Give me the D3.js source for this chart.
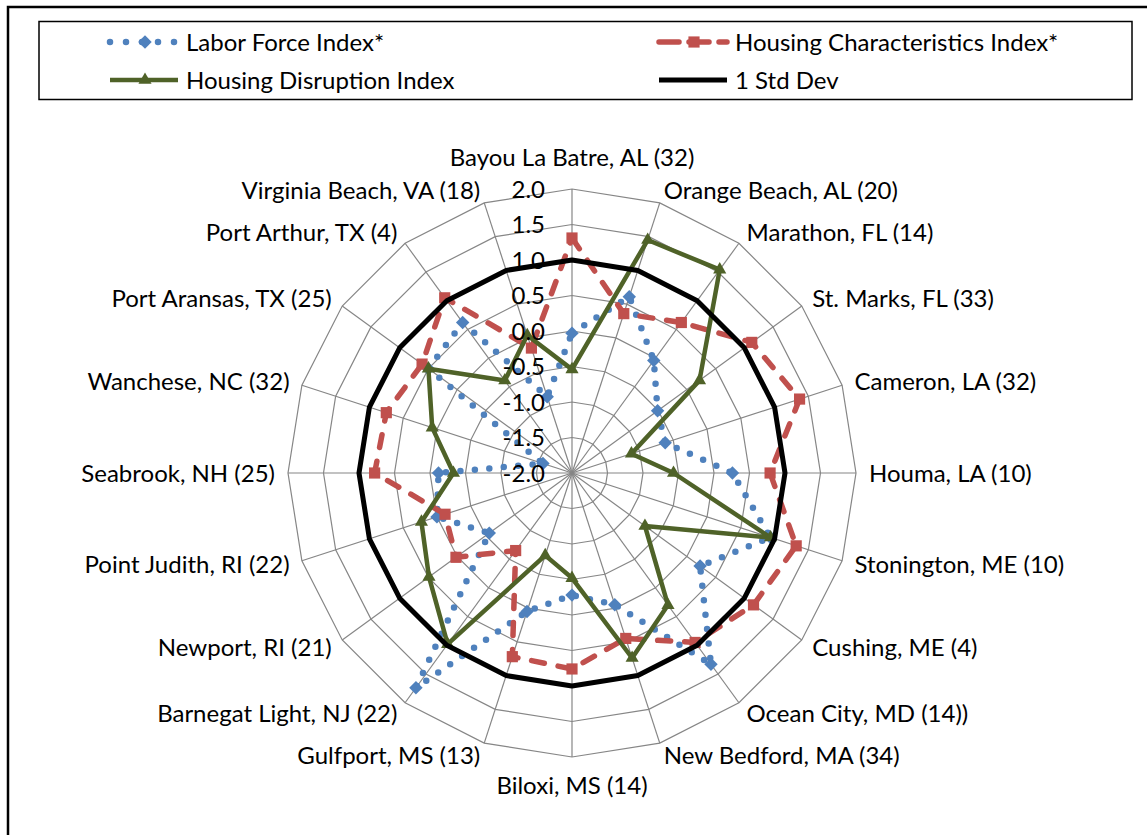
<!DOCTYPE html>
<html>
<head>
<meta charset="utf-8">
<script src="https://cdn.jsdelivr.net/npm/d3@7"></script>
<style>
  body { margin: 0; background: #fff; }
  text { font-family: Lato, "Open Sans", sans-serif; fill: #000; }
</style>
</head>
<body>
<div id="chart"></div>
<script>
// communities (number in brackets as in source)
const categories = [
  "Bayou La Batre, AL (32)", "Orange Beach, AL (20)", "Marathon, FL (14)",
  "St. Marks, FL (33)", "Cameron, LA (32)", "Houma, LA (10)",
  "Stonington, ME (10)", "Cushing, ME (4)", "Ocean City, MD (14))",
  "New Bedford, MA (34)", "Biloxi, MS (14)", "Gulfport, MS (13)",
  "Barnegat Light, NJ (22)", "Newport, RI (21)", "Point Judith, RI (22)",
  "Seabrook, NH (25)", "Wanchese, NC (32)", "Port Aransas, TX (25)",
  "Port Arthur, TX (4)", "Virginia Beach, VA (18)"
];

const laborForce = [-0.03, 0.61, -0.04, -0.51, -0.62, 0.26, 0.94, 0.23, 1.33, -0.05,
                    -0.28, 0.05, 1.74, -0.56, 0.00, -0.12, -1.57, 0.50, 0.62, -0.87];
const housingChar = [1.31, 0.36, 0.62, 1.13, 1.37, 0.79, 1.32, 1.16, 0.95, 0.45,
                     0.76, 0.72, -0.65, 0.02, -0.12, 0.78, 0.75, 0.61, 1.05, -0.15];
const housingDisruption = [-0.54, 1.45, 1.54, 0.22, -1.12, -0.57, 0.94, -0.73, 0.30, 0.74,
                           -0.52, -0.78, 0.98, 0.49, 0.23, -0.33, 0.07, 0.50, -0.39, 0.04];
const stdDev = [1, 1, 1, 1, 1, 1, 1, 1, 1, 1, 1, 1, 1, 1, 1, 1, 1, 1, 1, 1];

const tickValues = [-2.0, -1.5, -1.0, -0.5, 0.0, 0.5, 1.0, 1.5, 2.0];

const seriesNames = ["Labor Force Index*", "Housing Characteristics Index*",
                     "Housing Disruption Index", "1 Std Dev"];

const W = 1147, H = 835;
const cx = 572, cy = 473, R = 284;
const grid = "#868686";

const series = [
  {name: seriesNames[0], values: laborForce, color: "#4F81BD", width: 6.5,
   dash: "0 14.5", cap: "round", marker: "diamond"},
  {name: seriesNames[1], values: housingChar, color: "#C0504D", width: 5.5,
   dash: "13 14", cap: "round", marker: "square"},
  {name: seriesNames[2], values: housingDisruption, color: "#4F6228", width: 4.5,
   dash: null, cap: "butt", marker: "triangle"},
  {name: seriesNames[3], values: stdDev, color: "#000000", width: 5,
   dash: null, cap: "butt", marker: null}
];

const svg = d3.select("#chart").append("svg")
  .attr("width", W)
  .attr("height", H);

// outer frame
svg.append("rect")
  .attr("x", 8).attr("y", 7)
  .attr("width", W + 10).attr("height", H + 10)
  .attr("fill", "#fff")
  .attr("stroke", "#000")
  .attr("stroke-width", 2.5);

const angle = d3.scaleLinear()
  .domain([0, categories.length])
  .range([0, 2 * Math.PI]);

const r = d3.scaleLinear()
  .domain([-2, 2])
  .range([0, R]);

const g = svg.append("g")
  .attr("transform", `translate(${cx}, ${cy})`);

// rings
const ring = d3.lineRadial()
  .angle((d, i) => angle(i))
  .radius(d => r(d))
  .curve(d3.curveLinearClosed);

g.selectAll(".ring")
  .data(tickValues.filter(t => t > -2))
  .enter()
  .append("path")
  .attr("class", "ring")
  .attr("d", t => ring(categories.map(() => t)))
  .attr("fill", "none")
  .attr("stroke", grid)
  .attr("stroke-width", 1.2);

// spokes
g.selectAll(".spoke")
  .data(categories)
  .enter()
  .append("line")
  .attr("class", "spoke")
  .attr("x1", 0).attr("y1", 0)
  .attr("x2", (d, i) => d3.pointRadial(angle(i), R)[0])
  .attr("y2", (d, i) => d3.pointRadial(angle(i), R)[1])
  .attr("stroke", grid)
  .attr("stroke-width", 1.2);

// category labels
g.selectAll(".cat")
  .data(categories)
  .enter()
  .append("text")
  .attr("class", "cat")
  .each(function(d, i) {
    const a = angle(i);
    const s = Math.sin(a), c = Math.cos(a);
    let [x, y] = d3.pointRadial(a, R + 13);
    let anchor = s > 0.01 ? "start" : (s < -0.01 ? "end" : "middle");
    if (anchor === "middle") y += c > 0 ? -19 : 15;
    d3.select(this)
      .attr("x", x)
      .attr("y", y)
      .attr("dy", "0.36em")
      .attr("text-anchor", anchor);
  })
  .attr("font-size", 24)
  .text(d => d);

// series
const line = d3.lineRadial()
  .angle((d, i) => angle(i))
  .radius(d => r(d))
  .curve(d3.curveLinearClosed);

const markerPath = {
  diamond: d3.symbol(d3.symbolSquare, 90)(),
  square: d3.symbol(d3.symbolSquare, 125)(),
  triangle: d3.symbol(d3.symbolTriangle, 75)()
};

series.forEach(sr => {
  g.append("path")
    .datum(sr.values)
    .attr("d", line)
    .attr("fill", "none")
    .attr("stroke", sr.color)
    .attr("stroke-width", sr.width)
    .attr("stroke-dasharray", sr.dash)
    .attr("stroke-linecap", sr.cap)
    .attr("stroke-linejoin", "round");

  if (sr.marker) {
    g.selectAll(null)
      .data(sr.values)
      .enter()
      .append("path")
      .attr("d", markerPath[sr.marker])
      .attr("transform", (d, i) => {
        const [x, y] = d3.pointRadial(angle(i), r(d));
        return `translate(${x}, ${y})` + (sr.marker === "diamond" ? " rotate(45)" : "");
      })
      .attr("fill", sr.color);
  }
});

// value axis labels
g.selectAll(".tick")
  .data(tickValues)
  .enter()
  .append("text")
  .attr("class", "tick")
  .attr("x", -27)
  .attr("y", d => -r(d))
  .attr("dy", "0.36em")
  .attr("text-anchor", "end")
  .attr("font-size", 24)
  .text(d => d.toFixed(1));

// legend
svg.append("rect")
  .attr("x", 39).attr("y", 21.5)
  .attr("width", 1093).attr("height", 78)
  .attr("fill", "#fff")
  .attr("stroke", "#000")
  .attr("stroke-width", 1.5);

const legendPos = [[108, 42], [657, 42], [108, 80], [657, 80]];

series.forEach((sr, k) => {
  const [lx, ly] = legendPos[k];
  const lg = svg.append("g").attr("transform", `translate(${lx}, ${ly})`);
  lg.append("line")
    .attr("x1", 2).attr("x2", 70)
    .attr("y1", 0).attr("y2", 0)
    .attr("stroke", sr.color)
    .attr("stroke-width", sr.width)
    .attr("stroke-dasharray", sr.dash === "0 14.5" ? "0 16" : (sr.dash ? "20 10" : null))
    .attr("stroke-linecap", sr.cap);
  if (sr.marker) {
    lg.append("path")
      .attr("d", markerPath[sr.marker])
      .attr("transform", "translate(37, 0)" + (sr.marker === "diamond" ? " rotate(45)" : ""))
      .attr("fill", sr.color);
  }
  lg.append("text")
    .attr("x", 78)
    .attr("y", 0)
    .attr("dy", "0.36em")
    .attr("font-size", 24)
    .text(sr.name);
});
</script>
</body>
</html>
